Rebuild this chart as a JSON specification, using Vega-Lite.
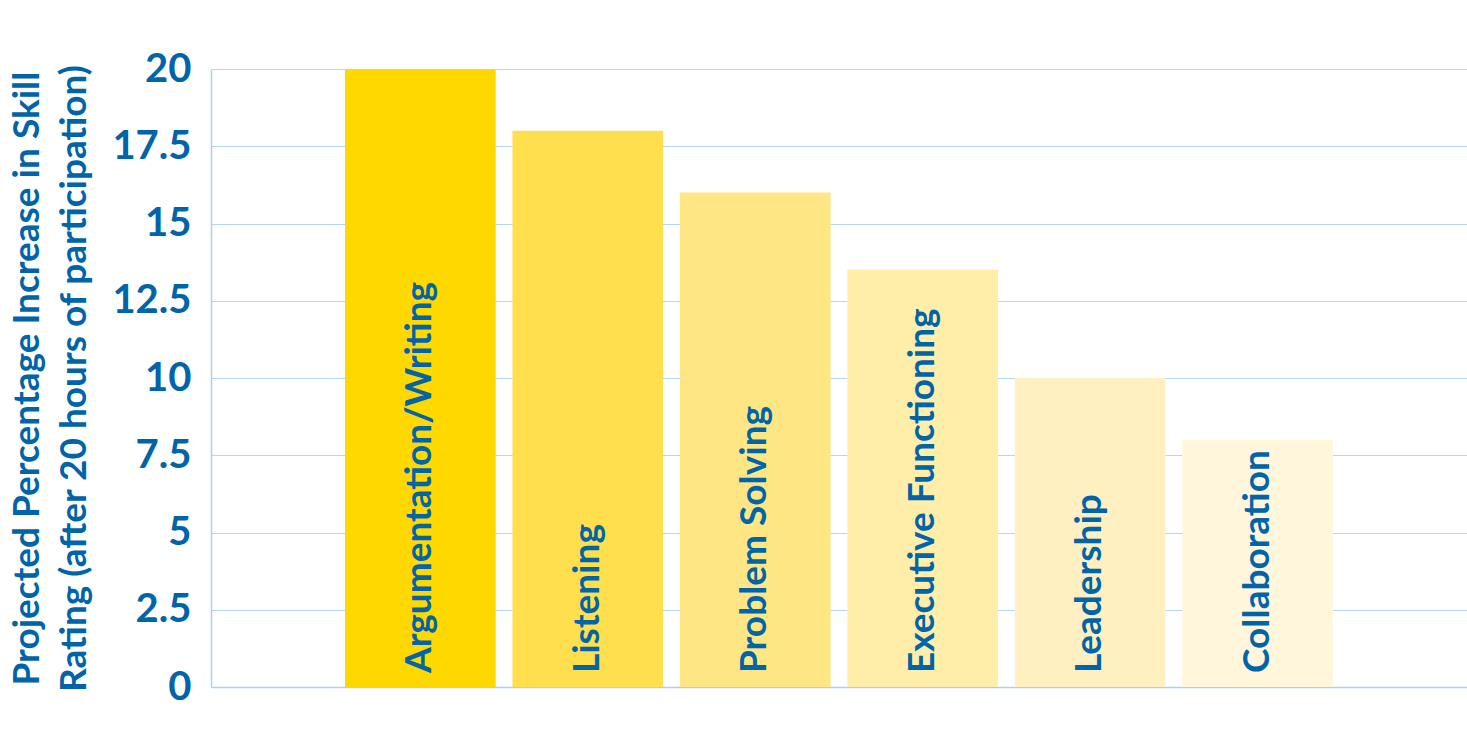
{
  "$schema": "https://vega.github.io/schema/vega-lite/v6.json",
  "width": 1256,
  "height": 618,
  "autosize": {"type": "none"},
  "padding": {"left": 211, "top": 69, "right": 0, "bottom": 60},
  "background": "white",
  "config": {
    "view": {"stroke": null},
    "font": "Lato"
  },
  "data": {
    "values": [
      {"skill": "Argumentation/Writing", "value": 20, "color": "#FFD800"},
      {"skill": "Listening", "value": 18, "color": "#FFDF4D"},
      {"skill": "Problem Solving", "value": 16, "color": "#FFE684"},
      {"skill": "Executive Functioning", "value": 13.5, "color": "#FFEDAA"},
      {"skill": "Leadership", "value": 10, "color": "#FEF0C0"},
      {"skill": "Collaboration", "value": 8, "color": "#FFF6DB"}
    ]
  },
  "encoding": {
    "x": {
      "field": "skill",
      "type": "nominal",
      "sort": null,
      "scale": {"paddingInner": 0.1, "paddingOuter": 0.8},
      "axis": {
        "labels": false,
        "ticks": false,
        "title": null,
        "domainColor": "#A9D2F0",
        "domainWidth": 1.5
      }
    }
  },
  "layer": [
    {
      "mark": {"type": "bar"},
      "encoding": {
        "y": {
          "field": "value",
          "type": "quantitative",
          "scale": {"domain": [0, 20], "nice": false},
          "axis": {
            "values": [0, 2.5, 5, 7.5, 10, 12.5, 15, 17.5, 20],
            "format": ".1~f",
            "ticks": false,
            "labelPadding": 20,
            "labelFont": "Lato",
            "labelFontSize": 40,
            "labelFontWeight": "bold",
            "labelColor": "#0064A8",
            "gridColor": "#B3D7F2",
            "gridWidth": 1,
            "domainColor": "#A9D2F0",
            "domainWidth": 1.5,
            "title": ["Projected Percentage Increase in Skill", "Rating (after 20 hours of participation)"],
            "titleFont": "Lato",
            "titleFontSize": 37,
            "titleFontWeight": "bold",
            "titleColor": "#0064A8",
            "titleLineHeight": 47,
            "titleAngle": -90,
            "titleAlign": "center",
            "titleBaseline": "middle",
            "titleX": -184,
            "titleY": 309
          }
        },
        "color": {"field": "color", "type": "nominal", "scale": null}
      }
    },
    {
      "mark": {
        "type": "text",
        "angle": -90,
        "align": "left",
        "baseline": "middle",
        "dx": 14,
        "font": "Lato",
        "fontSize": 37,
        "fontWeight": "bold",
        "color": "#0064A8"
      },
      "encoding": {
        "y": {"datum": 0, "type": "quantitative"},
        "text": {"field": "skill"}
      }
    }
  ]
}
